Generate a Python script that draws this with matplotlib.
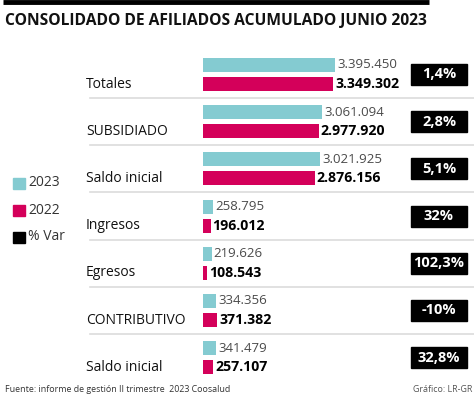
import matplotlib
matplotlib.use('Agg')
import matplotlib.pyplot as plt
from matplotlib.patches import Rectangle

plt.rcParams['font.family'] = ['Open Sans', 'DejaVu Sans']

# Datos
categorias = ['Totales', 'SUBSIDIADO', 'Saldo inicial', 'Ingresos', 'Egresos',
              'CONTRIBUTIVO', 'Saldo inicial']
valores_2023 = [3395450, 3061094, 3021925, 258795, 219626, 334356, 341479]
valores_2022 = [3349302, 2977920, 2876156, 196012, 108543, 371382, 257107]
variacion = ['1,4%', '2,8%', '5,1%', '32%', '102,3%', '-10%', '32,8%']

TEAL = '#84CBD1'
ROJO = '#D4005A'
W, H = 474, 395


def miles(v):
    return f'{v:,}'.replace(',', '.')


fig = plt.figure(figsize=(W / 100, H / 100), dpi=100)

# capa de fondo en pixeles
bg = fig.add_axes([0, 0, 1, 1])
bg.set_xlim(0, W)
bg.set_ylim(H, 0)
bg.axis('off')

# ejes de las barras
x0 = 203
ax = fig.add_axes([x0 / W, 0, (W - x0) / W, 1])
ax.set_ylim(H, 0)
ax.set_xlim(0, max(valores_2023) * (W - x0) / 132)
ax.axis('off')

paso = 47.2
y23 = [65 + paso * i for i in range(len(categorias))]
y22 = [84 + paso * i for i in range(len(categorias))]

ax.barh(y23, valores_2023, height=14, color=TEAL)
ax.barh(y22, valores_2022, height=14, color=ROJO)

for i, cat in enumerate(categorias):
    ax.annotate(miles(valores_2023[i]), (valores_2023[i], y23[i]), xytext=(2, 0),
                textcoords='offset pixels', va='center', ha='left',
                fontsize=9.5, color='#4a4a4a')
    ax.annotate(miles(valores_2022[i]), (valores_2022[i], y22[i]), xytext=(2, 0),
                textcoords='offset pixels', va='center', ha='left',
                fontsize=10.2, color='black', fontweight='bold')
    bg.text(86, y22[i], cat, fontsize=10, va='center', ha='left', color='#111111')
    yc = (y23[i] + y22[i]) / 2
    bg.add_patch(Rectangle((411, yc - 10.5), 56, 21, color='black'))
    bg.text(439, yc, variacion[i], color='white', fontweight='bold', fontsize=10.5,
            ha='center', va='center')
    if i < len(categorias) - 1:
        bg.plot([90, W], [y22[i] + 14] * 2, color='#dcdcdc', lw=1.2)

# titulo
bg.plot([3, 429], [2, 2], color='black', lw=3.5, solid_capstyle='butt')
bg.text(5, 21, 'CONSOLIDADO DE AFILIADOS ACUMULADO JUNIO 2023', fontsize=11.25,
        fontweight='bold', va='center', ha='left', color='#111111')

# leyenda
leyenda = [('2023', TEAL), ('2022', ROJO), ('% Var', 'black')]
for j, (txt, col) in enumerate(leyenda):
    yl = 183 + 27 * j
    bg.add_patch(Rectangle((13, yl - 5.5), 12, 11, color=col))
    bg.text(28, yl, txt, fontsize=10, va='center', ha='left', color='#333333')

# pie
bg.text(5, 389, 'Fuente: informe de gestión II trimestre  2023 Coosalud', fontsize=6.4,
        va='center', ha='left', color='#333333')
bg.text(472, 389, 'Gráfico: LR-GR', fontsize=6.4, va='center', ha='right', color='#555555')

fig.savefig('out.png', dpi=100)
